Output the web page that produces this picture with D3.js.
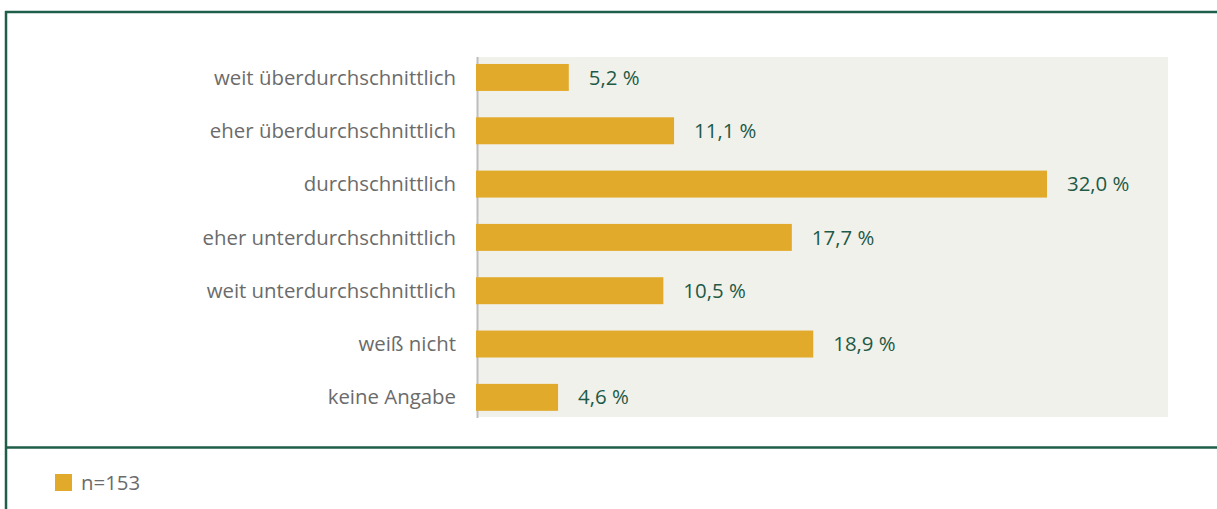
<!DOCTYPE html>
<html>
<head>
<meta charset="utf-8">
<script src="https://cdn.jsdelivr.net/npm/d3@7"></script>
<style>
  body { margin: 0; background: #fff; }
  text { font-family: "Open Sans", sans-serif; }
</style>
</head>
<body>
<script>
// chart data
var categories = ["weit überdurchschnittlich", "eher überdurchschnittlich", "durchschnittlich",
  "eher unterdurchschnittlich", "weit unterdurchschnittlich", "weiß nicht", "keine Angabe"];
var values = [5.2, 11.1, 32.0, 17.7, 10.5, 18.9, 4.6];
var legendLabel = "n=153";

var w = 1217;
var h = 509;

var svg = d3.select("body")
  .append("svg")
  .attr("width", w)
  .attr("height", h);

// frame lines
var frame = "#1f5e4a";
svg.append("line").attr("x1", 5).attr("x2", w).attr("y1", 12).attr("y2", 12)
  .attr("stroke", frame).attr("stroke-width", 2.5);
svg.append("line").attr("x1", 6).attr("x2", 6).attr("y1", 11).attr("y2", h)
  .attr("stroke", frame).attr("stroke-width", 2.5);
svg.append("line").attr("x1", 5).attr("x2", w).attr("y1", 447.5).attr("y2", 447.5)
  .attr("stroke", frame).attr("stroke-width", 2.5);

// plot area
svg.append("rect")
  .attr("x", 477).attr("y", 57)
  .attr("width", 1168 - 477).attr("height", 417 - 57)
  .attr("fill", "#f1f1ec");

var x = d3.scaleLinear().domain([0, 32]).range([476, 1047]);
var y = d3.scaleBand().domain(categories).range([50.8, 424]).paddingInner(0.494).paddingOuter(0.247);

// axis line
svg.append("line").attr("x1", 477.5).attr("x2", 477.5).attr("y1", 57).attr("y2", 418)
  .attr("stroke", "#bdbdbd").attr("stroke-width", 2);

svg.selectAll(".bar")
  .data(values)
  .enter()
  .append("rect")
  .attr("x", x(0))
  .attr("y", function(d, i) { return y(categories[i]); })
  .attr("width", function(d) { return x(d) - x(0); })
  .attr("height", y.bandwidth())
  .attr("fill", "#e2aa2a");

// category labels
svg.selectAll(".cat")
  .data(categories)
  .enter()
  .append("text")
  .attr("x", 456)
  .attr("y", function(d) { return y(d) + y.bandwidth() / 2; })
  .attr("dy", "0.35em")
  .attr("text-anchor", "end")
  .style("font-size", "20.4px")
  .style("fill", "#6b6b6b")
  .text(function(d) { return d; });

// value labels
svg.selectAll(".val")
  .data(values)
  .enter()
  .append("text")
  .attr("x", function(d) { return x(d) + 20; })
  .attr("y", function(d, i) { return y(categories[i]) + y.bandwidth() / 2; })
  .attr("dy", "0.35em")
  .style("font-size", "20.4px")
  .style("fill", "#1e5a45")
  .text(function(d) { return d.toFixed(1).replace(".", ",") + " %"; });

// legend
svg.append("rect").attr("x", 55).attr("y", 474).attr("width", 17).attr("height", 17)
  .attr("fill", "#e2aa2a");
svg.append("text").attr("x", 81).attr("y", 482.5).attr("dy", "0.35em")
  .style("font-size", "20.4px").style("fill", "#6b6b6b")
  .text(legendLabel);
</script>
</body>
</html>
